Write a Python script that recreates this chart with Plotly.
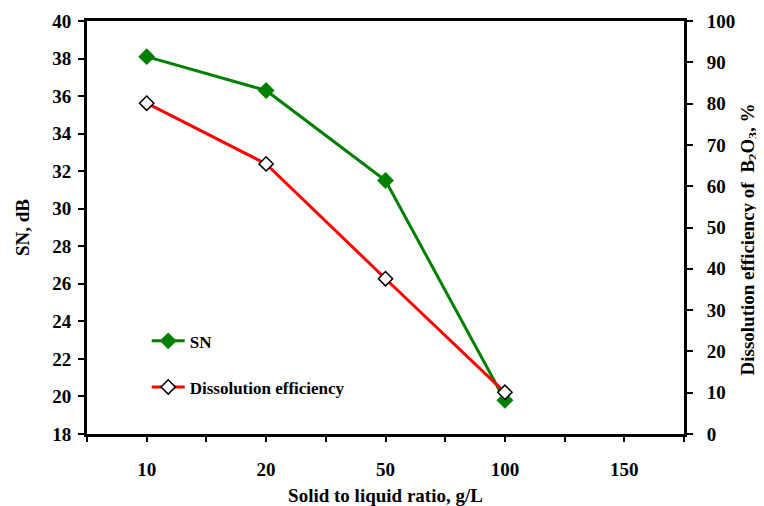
import plotly.graph_objects as go

categories = ["10", "20", "50", "100", "150"]
x_cats = ["10", "20", "50", "100"]
sn_values = [38.1, 36.3, 31.5, 19.8]
de_values = [80.1, 65.4, 37.6, 10.1]
y_left_ticks = list(range(18, 41, 2))
y_right_ticks = list(range(0, 101, 10))

x_idx = [categories.index(c) for c in x_cats]
major_pos = list(range(len(categories)))

FONT = "Liberation Serif"

fig = go.Figure()
fig.add_trace(go.Scatter(
    x=x_idx, y=sn_values, name="SN", mode="lines+markers",
    line=dict(color="#008000", width=3),
    marker=dict(symbol="diamond", size=13, color="#008000"),
    legendgroup="a", yaxis="y",
))
fig.add_trace(go.Scatter(
    x=x_idx, y=de_values, name="Dissolution efficiency", mode="lines+markers",
    line=dict(color="#FF0000", width=3),
    marker=dict(symbol="diamond", size=11, color="white", line=dict(color="black", width=1.5)),
    legendgroup="b", yaxis="y2",
))

tickfont = dict(family=FONT, size=19, color="black", weight="bold")
titlefont = dict(family=FONT, size=19, color="black", weight="bold")

# page body has an 8px margin, so the figure is sized/offset to compensate
fig.update_layout(
    width=756, height=498,
    margin=dict(l=79, r=80, t=13, b=72),
    plot_bgcolor="white", paper_bgcolor="white",
    showlegend=True,
    legend=dict(x=0.1, y=0.268, xanchor="left", yanchor="top",
                bgcolor="rgba(0,0,0,0)", tracegroupgap=21,
                font=dict(family=FONT, size=17, color="black", weight="bold"),
                itemwidth=33),
    xaxis=dict(
        range=[-0.5, len(categories) - 0.5], automargin=False,
        tickmode="array", tickvals=major_pos, ticktext=categories,
        ticks="outside", ticklen=5, tickwidth=2, tickcolor="black",
        minor=dict(tickmode="linear", tick0=-0.5, dtick=0.5, ticks="outside",
                   ticklen=5, tickwidth=2, tickcolor="black", showgrid=False),
        showline=True, linecolor="black", linewidth=3, mirror=True,
        showgrid=False, zeroline=False,
        tickfont=tickfont, ticklabelstandoff=11,
        title=dict(text="Solid to liquid ratio, g/L", font=titlefont, standoff=18),
    ),
    xaxis2=dict(
        overlaying="x", anchor="y", side="bottom", automargin=False,
        range=[-0.5, len(categories) - 0.5],
        tickmode="linear", tick0=-0.5, dtick=0.5,
        ticks="inside", ticklen=4, tickwidth=2, tickcolor="black",
        showline=False, showgrid=False, zeroline=False, showticklabels=False,
    ),
    yaxis=dict(
        range=[18, 40], tickmode="array", tickvals=y_left_ticks, automargin=False,
        ticks="outside", ticklen=6, tickwidth=1.5, tickcolor="black",
        showline=True, linecolor="black", linewidth=3,
        showgrid=False, zeroline=False, tickfont=tickfont, ticklabelstandoff=3,
        title=dict(text="SN, dB", font=titlefont, standoff=18),
    ),
    yaxis2=dict(
        range=[0, 100], tickmode="array", tickvals=y_right_ticks, automargin=False,
        overlaying="y", side="right", anchor="x",
        ticks="outside", ticklen=6, tickwidth=1.5, tickcolor="black",
        showline=True, linecolor="black", linewidth=3,
        showgrid=False, zeroline=False, tickfont=tickfont, ticklabelstandoff=10,
    ),
    annotations=[dict(
        text="Dissolution efficiency of  B<sub>2</sub>O<sub>3</sub>, %",
        textangle=-90, xref="paper", yref="paper", x=1, y=0.5,
        xanchor="center", yanchor="middle", xshift=64, yshift=-12,
        showarrow=False, font=titlefont,
    )],
)

fig.write_html("out.html")
